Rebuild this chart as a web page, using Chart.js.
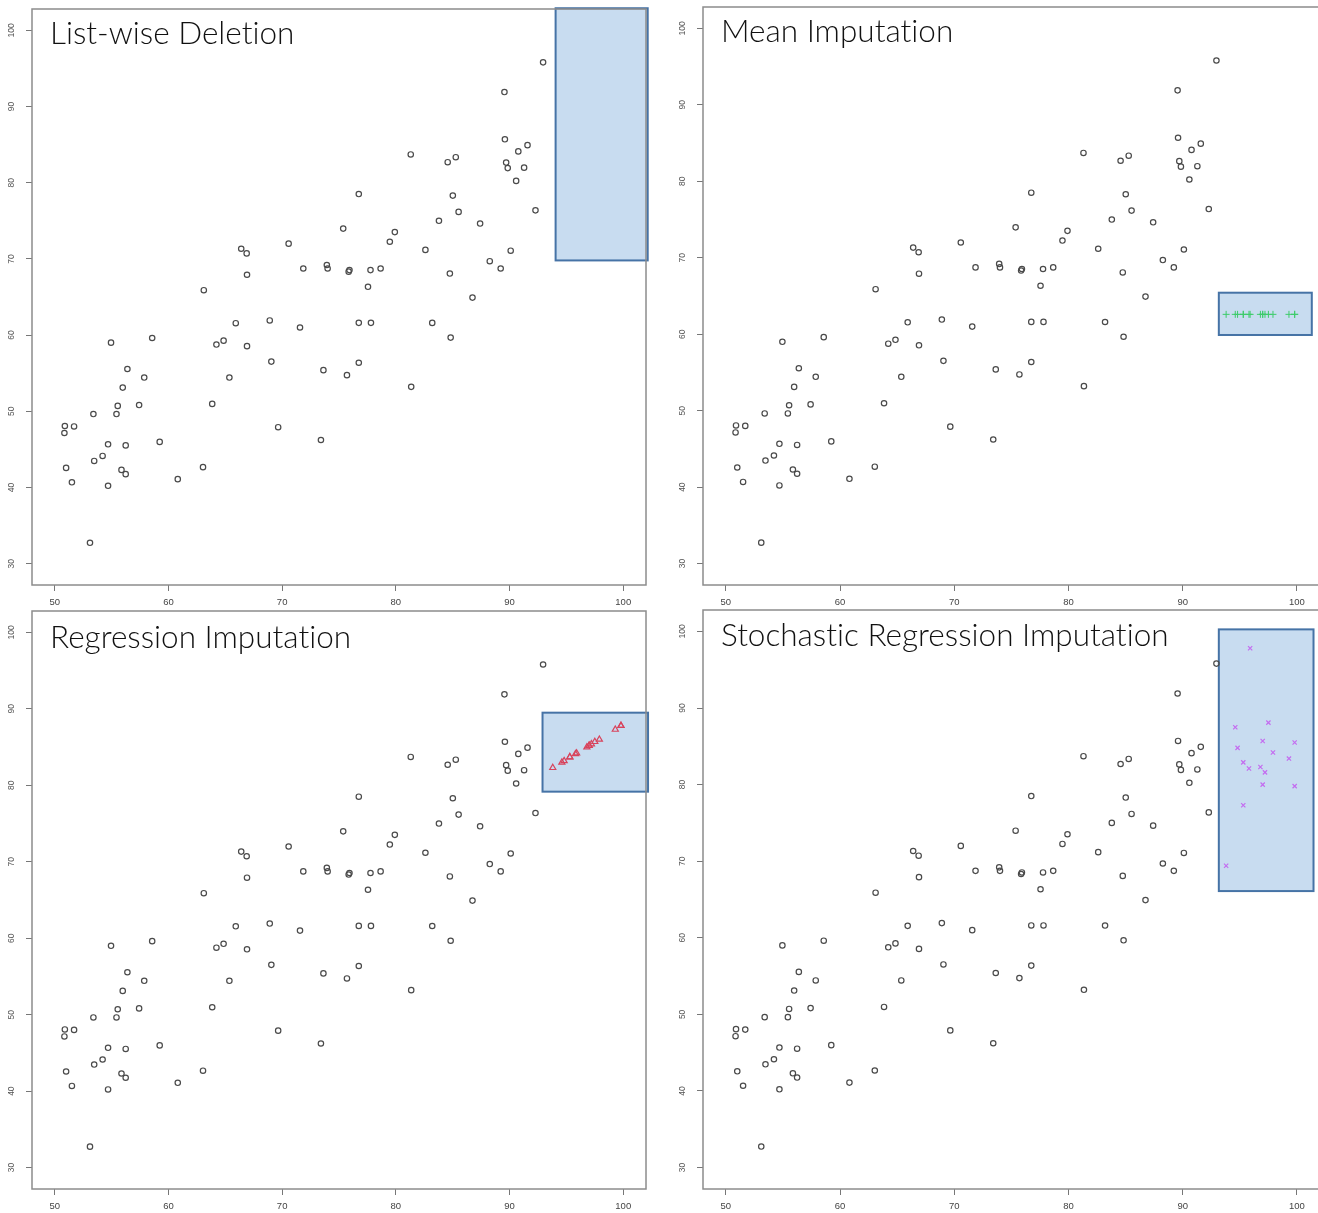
<!DOCTYPE html>
<html>
<head>
<meta charset="utf-8">
<script src="https://cdn.jsdelivr.net/npm/chart.js@4.4.0/dist/chart.umd.min.js"></script>
<style>
    html, body { margin: 0; padding: 0; background: #fff; }
    body { width: 1318px; height: 1213px; position: relative; overflow: hidden; }
    .panel { position: absolute; }
    .title {
        position: absolute;
        font-family: Lato, "Open Sans", sans-serif;
        font-weight: 300;
        font-size: 31.5px;
        line-height: 32px;
        font-variant-ligatures: none;
        color: #111;
        white-space: nowrap;
    }
</style>
</head>
<body>
<div class="panel" style="left:0;top:0;width:652px;height:612px"><canvas id="c1"></canvas></div>
<div class="panel" style="left:671px;top:0;width:654px;height:612px"><canvas id="c2"></canvas></div>
<div class="panel" style="left:0;top:600px;width:652px;height:613px"><canvas id="c3"></canvas></div>
<div class="panel" style="left:671px;top:600px;width:654px;height:613px"><canvas id="c4"></canvas></div>

<div class="title" style="left:50px;top:16px">List-wise Deletion</div>
<div class="title" style="left:721px;top:14px">Mean Imputation</div>
<div class="title" style="left:50px;top:620px">Regression Imputation</div>
<div class="title" style="left:721px;top:618px">Stochastic Regression Imputation</div>

<script>
// observed cases (same in every panel)
const obsX = [92.95, 89.55, 89.59, 91.58, 90.77, 89.7, 89.84, 91.28, 90.58, 92.28,
    90.1, 89.22, 88.26, 87.41, 86.74, 85.52, 85.01, 85.27, 84.56, 83.79,
    82.6, 84.75, 83.2, 84.82, 81.31, 81.35, 79.91, 79.47, 78.66, 77.77,
    77.55, 77.81, 76.74, 76.74, 75.37, 75.92, 75.85, 73.93, 74.0, 75.7,
    76.74, 73.63, 73.41, 71.86, 71.57, 70.57, 69.05, 68.91, 69.65, 66.4,
    66.88, 66.91, 66.91, 65.92, 65.36, 64.85, 64.22, 63.85, 63.11, 63.04,
    60.82, 59.23, 58.57, 57.87, 57.42, 56.39, 55.98, 55.54, 55.43, 54.95,
    56.24, 55.87, 56.24, 54.69, 54.69, 54.21, 53.47, 53.4, 53.1, 51.7,
    50.89, 50.85, 51.0, 51.51];
const obsY = [95.8, 91.9, 85.7, 84.93, 84.11, 82.64, 81.92, 81.98, 80.24, 76.37,
    71.08, 68.74, 69.7, 74.64, 64.92, 76.17, 78.31, 83.35, 82.69, 75.0,
    71.18, 68.08, 61.6, 59.67, 83.71, 53.21, 73.52, 72.25, 68.74, 68.53,
    66.34, 61.61, 61.61, 78.51, 73.98, 68.53, 68.33, 69.2, 68.74, 54.74,
    56.37, 55.4, 46.23, 68.74, 61.0, 72.0, 56.52, 61.92, 47.91, 71.33,
    70.72, 67.92, 58.55, 61.56, 54.43, 59.27, 58.76, 50.97, 65.89, 42.67,
    41.09, 45.98, 59.62, 54.43, 50.82, 55.55, 53.11, 50.71, 49.64, 59.01,
    45.52, 42.31, 41.75, 45.67, 40.22, 44.14, 43.48, 49.64, 32.74, 48.01,
    48.07, 47.15, 42.57, 40.68];

// cases with missing y, and their imputed values
const missX  = [93.8, 94.6, 94.8, 95.3, 95.3, 95.8, 95.9, 96.8, 97.0, 97.0, 97.2, 97.5, 97.9, 99.3, 99.8, 99.8];
const meanY  = [62.6, 62.6, 62.6, 62.6, 62.6, 62.6, 62.6, 62.6, 62.6, 62.6, 62.6, 62.6, 62.6, 62.6, 62.6, 62.6];
const regY   = [82.3, 83.0, 83.2, 83.7, 83.7, 84.1, 84.2, 85.0, 85.2, 85.2, 85.4, 85.7, 86.0, 87.3, 87.8, 87.8];
const stochY = [69.4, 87.5, 84.8, 82.9, 77.3, 82.1, 97.8, 82.3, 85.7, 80.0, 81.6, 88.1, 84.2, 83.4, 79.8, 85.5];

const xTicks = [50, 60, 70, 80, 90, 100];
const yTicks = [30, 40, 50, 60, 70, 80, 90, 100];

// highlight boxes in data units: [x0, x1, y0, y1]
const boxDeletion   = [94.05, 102.15, 69.8, 102.9];
const boxMean       = [93.16, 101.3, 59.9, 65.43];
const boxRegression = [92.9, 102.18, 79.17, 89.5];
const boxStochastic = [93.16, 101.45, 66.1, 100.27];

const pts = (xs, ys) => xs.map((x, i) => ({ x: x, y: ys[i] }));

const framePlugin = {
    id: 'frame',
    beforeDatasetsDraw(chart, args, opts) {
        const { ctx, scales: { x, y } } = chart;
        const b = opts.box;
        if (!b) return;
        const l = x.getPixelForValue(b[0]), r = x.getPixelForValue(b[1]);
        const t = y.getPixelForValue(b[3]), bt = y.getPixelForValue(b[2]);
        ctx.save();
        ctx.fillStyle = '#c8dcf0';
        ctx.fillRect(l, t, r - l, bt - t);
        ctx.strokeStyle = '#4673a6';
        ctx.lineWidth = 2;
        ctx.strokeRect(l, t, r - l, bt - t);
        ctx.restore();
    },
    afterDraw(chart) {
        const { ctx, chartArea: a, scales: { y } } = chart;
        ctx.save();
        ctx.strokeStyle = '#8c8c8c';
        ctx.lineWidth = 1.5;
        ctx.strokeRect(a.left, a.top, a.right - a.left, a.bottom - a.top);
        // rotated y tick labels, R style
        ctx.fillStyle = '#555';
        ctx.font = '8.5px "Liberation Sans", Arial, sans-serif';
        ctx.textAlign = 'center';
        ctx.textBaseline = 'middle';
        yTicks.forEach(v => {
            ctx.save();
            ctx.translate(a.left - 20, y.getPixelForValue(v));
            ctx.rotate(-Math.PI / 2);
            ctx.fillText(String(v), 0, 0);
            ctx.restore();
        });
        ctx.restore();
    }
};

function makeChart(id, extra, box, pad) {
    const datasets = [{
        data: pts(obsX, obsY),
        pointStyle: 'circle',
        pointRadius: 2.7,
        borderWidth: 1.2,
        borderColor: '#4a4a4a',
        backgroundColor: 'rgba(0,0,0,0)'
    }];
    if (extra) datasets.push(extra);

    new Chart(document.getElementById(id), {
        type: 'scatter',
        data: { datasets: datasets },
        options: {
            responsive: true,
            maintainAspectRatio: false,
            animation: false,
            events: [],
            layout: { padding: pad },
            plugins: {
                legend: { display: false },
                tooltip: { enabled: false },
                frame: { box: box }
            },
            scales: {
                x: {
                    type: 'linear', min: 48, max: 102,
                    afterBuildTicks: s => { s.ticks = xTicks.map(v => ({ value: v })); },
                    afterFit: s => { s.height = pad.xh; },
                    grid: { drawOnChartArea: false, tickLength: 6, color: '#777', lineWidth: 1 },
                    border: { display: false },
                    ticks: { color: '#444', padding: 6, maxRotation: 0, font: { family: '"Liberation Sans", Arial, sans-serif', size: 9.5 } }
                },
                y: {
                    type: 'linear', min: 27.2, max: 102.8,
                    afterBuildTicks: s => { s.ticks = yTicks.map(v => ({ value: v })); },
                    afterFit: s => { s.width = 32; },
                    grid: { drawOnChartArea: false, tickLength: 6, color: '#777', lineWidth: 1 },
                    border: { display: false },
                    ticks: { display: false }
                }
            }
        },
        plugins: [framePlugin]
    });
}

makeChart('c1', null, boxDeletion, { top: 9, right: 6, left: 0, bottom: 0, xh: 27 });

makeChart('c2', {
    data: pts(missX, meanY),
    pointStyle: 'cross', pointRadius: 3.5, borderWidth: 1,
    borderColor: '#3dcc6a', backgroundColor: '#3dcc6a'
}, boxMean, { top: 7, right: 1, left: 0, bottom: 0, xh: 27 });

makeChart('c3', {
    data: pts(missX, regY),
    pointStyle: 'triangle', pointRadius: 3.5, borderWidth: 1.2,
    borderColor: '#d8435c', backgroundColor: 'rgba(0,0,0,0)'
}, boxRegression, { top: 11, right: 6, left: 0, bottom: 0, xh: 24 });

makeChart('c4', {
    data: pts(missX, stochY),
    pointStyle: 'crossRot', pointRadius: 3, borderWidth: 1.2,
    borderColor: '#c46cf0', backgroundColor: '#c46cf0'
}, boxStochastic, { top: 10, right: 1, left: 0, bottom: 0, xh: 24 });
</script>
</body>
</html>
